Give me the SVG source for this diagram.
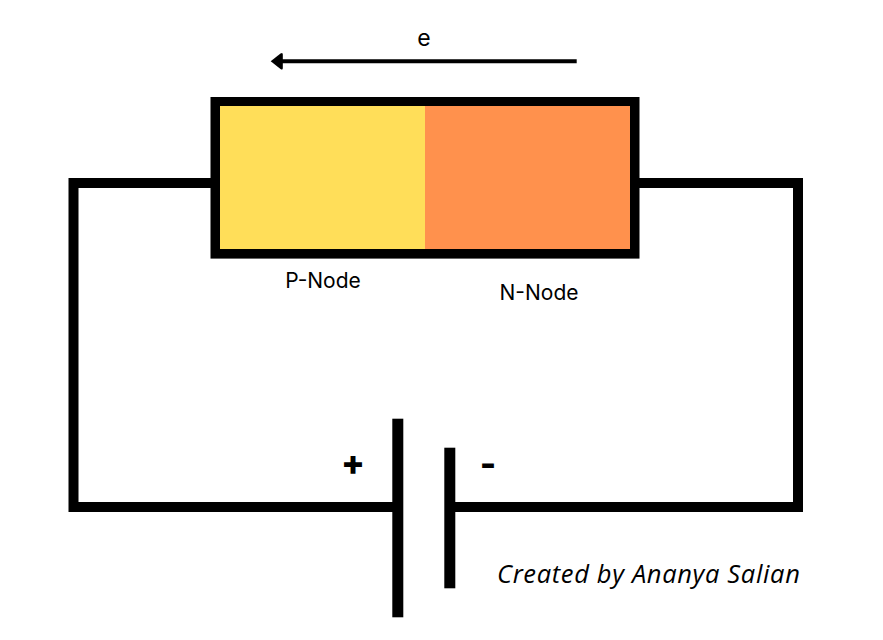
<svg xmlns="http://www.w3.org/2000/svg" width="883" height="640" viewBox="0 0 883 640">
<style>
.wire{fill:none;stroke:#000;stroke-width:10;stroke-linejoin:miter}
.t{font-family:Inter,"Liberation Sans",sans-serif;fill:#000;font-size:21px}
.sign{font-size:35px;font-weight:800}
.plate{fill:#000}
</style>
<rect width="883" height="640" fill="#fff"/>
<g id="connectors">
<path class="wire" d="M215 183H73.5V507H398"/>
<path class="wire" d="M635 183H798V507H450"/>
<path d="M576.7 61.3H280" fill="none" stroke="#000" stroke-width="4"/>
<path d="M270.7 61.3L280.5 53.6Q282.8 52 282.8 54.5V68.1Q282.8 70.6 280.5 69L270.7 61.3Z" fill="#000"/>
</g>
<g id="diode">
<rect x="215.2" y="101.7" width="419.6" height="152.2" fill="#000" stroke="#000" stroke-width="9.4"/>
<rect x="220" y="106" width="205" height="143" fill="#ffde59"/>
<rect x="425" y="106" width="205" height="143" fill="#ff914d"/>
</g>
<g id="battery-plus"><rect class="plate" x="392.3" y="418.7" width="11" height="198.6"/></g>
<g id="battery-minus"><rect class="plate" x="444.3" y="447.7" width="11" height="140.6"/></g>
<g id="labels">
<text class="t" x="424" y="46" text-anchor="middle" style="font-size:23px">e</text>
<text class="t" x="323" y="288" text-anchor="middle">P-Node</text>
<text class="t" x="539" y="300" text-anchor="middle">N-Node</text>
<text class="t sign" x="353" y="475" text-anchor="middle">+</text>
<text class="t sign" x="488" y="476" text-anchor="middle">-</text>
<text x="497" y="583" style="font-size:25.5px;letter-spacing:.65px;font-style:italic;font-family:'Open Sans','Noto Sans',sans-serif;fill:#000">Created by Ananya Salian</text>
</g>
</svg>
